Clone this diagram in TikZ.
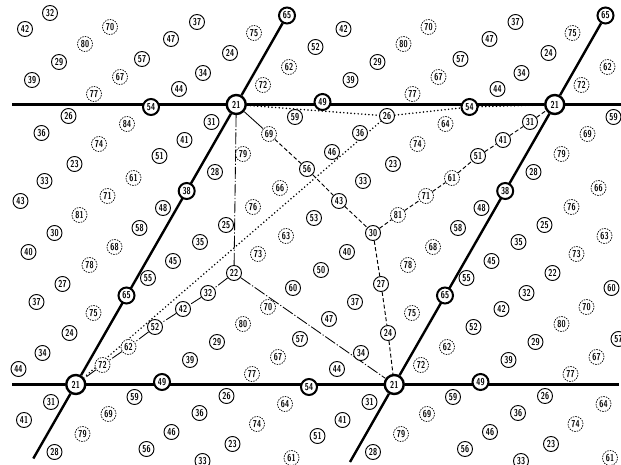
\documentclass[tikz,border=0pt]{standalone}
\usetikzlibrary{backgrounds}
\newcommand\skipnode[1]{\expandafter\def\csname skip#1\endcsname{}}
\newcommand\relabel[2]{\expandafter\def\csname lab#1\endcsname{#2}}
\skipnode{32zp}
\relabel{64mp}{84}
\tikzset{
  numbase/.style={circle, fill=white, inner sep=0pt, minimum size=15pt,
    font=\fontsize{10}{10}\selectfont\sffamily\bfseries},
  sn/.style={numbase, draw, line width=0.95pt},
  dn/.style={numbase, draw, line width=0.7pt, dash pattern=on 1.5pt off 1.1pt},
  bn/.style={numbase, draw, line width=2pt, minimum size=16pt},
  hub/.style={numbase, draw, line width=2.4pt, minimum size=19pt},
  bigline/.style={line width=2.4pt},
  dotline/.style={line width=1.7pt, line cap=round, dash pattern=on 0pt off 3.6pt},
  dashline/.style={line width=0.95pt, dash pattern=on 4pt off 2.4pt},
  ddline/.style={line width=0.85pt, dash pattern=on 12pt off 2pt on 1.2pt off 2pt},
  thinline/.style={line width=0.85pt},
}
\begin{document}
\begin{tikzpicture}[x=1pt,y=-1pt]
\useasboundingbox (0,0) rectangle (621,465);
\begin{scope}
\clip (0,0) rectangle (621,465);
\foreach \n/\x/\y/\s in {
21/75.75/384.5/hub, 22/234/273/sn, 23/393/164/sn, 24/388/333/sn, 25/226/225/sn,
26/387/116/sn, 27/381/284/sn, 28/215/172/sn, 29/217/342/sn, 30/373/233/sn,
31/530/122/sn, 32/208/293/sn, 33/363/181/sn, 34/361/353/sn, 35/200/242/sn,
36/360/133/sn, 37/355/302/sn, 38/186.7/191/bn, 39/190/360/sn, 40/347/252/sn,
41/503/140/sn, 42/183/309/sn, 43/339/201/sn, 44/337/369/sn, 45/173/261/sn,
46/332/152/sn, 47/329/319/sn, 48/163/208/sn, 49/162/382/bn, 50/321/270/sn,
51/478/156/sn, 52/155/327/sn, 53/314/218/sn, 54/309/387/bn, 55/148/278/sn,
56/307/169/sn, 57/300/339/sn, 58/458/228/sn, 59/295/117/sn, 60/293/288/sn,
61/452/178/dn, 62/447/347/dn, 63/286/236/dn, 64/285/404/dn, 65/126.5/295.5/bn,
66/280/188/dn, 67/278/357/dn, 68/433/247/dn, 69/269/134/dn, 70/268/307/dn,
71/426/196/dn, 72/421/365/dn, 73/258/254/dn, 74/257/424/dn, 75/412/313/dn,
76/253/207/dn, 77/252/374/dn, 78/408/265/dn, 79/243/154/dn, 80/243/324/dn,
81/398/215/dn}{
 \foreach \i/\ic in {-1/m,0/z,1/p}{
  \foreach \j/\jc in {-1/m,0/z,1/p}{
   \pgfmathsetmacro\px{\x+\i*318.5+\j*160.5}
   \pgfmathsetmacro\py{\y-\j*280}
   \pgfmathtruncatemacro\ok{(\px>=15)*(\px<=623)*(\py>=12)*(\py<=466)}
   \ifnum\ok=1
    \ifcsname skip\n\ic\jc\endcsname\else
     \ifcsname lab\n\ic\jc\endcsname\edef\lab{\csname lab\n\ic\jc\endcsname}\else\edef\lab{\n}\fi
     \edef\donode{\noexpand\node[\s] (n\n\ic\jc) at (\px,\py) {\noexpand\scalebox{0.74}[1]{\lab}};}
     \donode
    \fi
   \fi
  }}}
\end{scope}
\begin{pgfonlayer}{background}
\fill[white] (0,0) rectangle (621,465);
\coordinate (hl0) at (12,384.5); \coordinate (hr0) at (619,384.5);
\coordinate (hl1) at (12,104.5); \coordinate (hr1) at (621,104.5);
\coordinate (sl0) at (33.3,458.5); \coordinate (sr0) at (350,462);
% thick lattice lines
\draw[bigline] (hl0) -- (n21zz) -- (n21pz) -- (hr0);
\draw[bigline] (hl1) -- (n21zp) -- (n21pp) -- (hr1);
\draw[bigline] (sl0) -- (n21zz) -- (n21zp) -- (n65zp);
\draw[bigline] (sr0) -- (n21pz) -- (n21pp) -- (n65pp);
% dotted paths
\draw[dotline] (n21zp) -- (n26zz) -- (n54zp) -- (n21pp);
\draw[dotline] (n26zz) -- (n21zz);
% dashed tree around 30
\draw[thinline] (n21zp) -- (n69zz);
\draw[dashline] (n69zz) -- (n56zz) -- (n43zz) -- (n30zz);
\draw[dashline] (n30zz) -- (n81zz) -- (n71zz) -- (n61zz) -- (n51zz) -- (n41zz) -- (n31zz) -- (n21pp);
\draw[dashline] (n30zz) -- (n27zz) -- (n24zz) -- (n21pz);
% dash-dot tree around 22
\draw[ddline] (n21zp) -- (n22zz);
\draw[ddline] (n22zz) -- (n32zz) -- (n42zz) -- (n52zz) -- (n62mz) -- (n72mz) -- (n21zz);
\draw[ddline] (n22zz) -- (n21pz);
\end{pgfonlayer}
\end{tikzpicture}
\end{document}
